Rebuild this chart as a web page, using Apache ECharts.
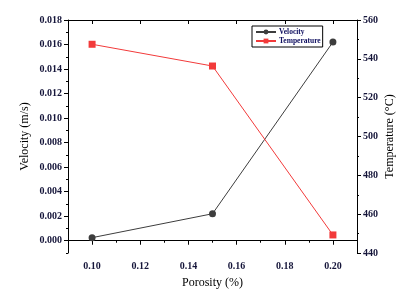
<!DOCTYPE html>
<html><head><meta charset="utf-8">
<script src="https://cdn.jsdelivr.net/npm/echarts@6/dist/echarts.min.js"></script>
<style>html,body{margin:0;padding:0;background:#fff}#c{width:418px;height:296px}</style>
</head><body><div id="c"></div>
<script>
const porosity = [0.10, 0.15, 0.20];
const velocity = [0.00025, 0.0022, 0.0162];
const temperature = [547.5, 536.3, 449.3];
const xTickLabels = [0.10, 0.12, 0.14, 0.16, 0.18, 0.20];
const xMinorTicks = [0.09, 0.11, 0.13, 0.15, 0.17, 0.19, 0.21];
const vTickLabels = [0, 0.002, 0.004, 0.006, 0.008, 0.010, 0.012, 0.014, 0.016, 0.018];
const vMinorTicks = [-0.001, 0.001, 0.003, 0.005, 0.007, 0.009, 0.011, 0.013, 0.015, 0.017];

const font = 'Liberation Serif';
const lblStyle = {fontFamily: font, fontSize: 10, color: '#15153a', fontWeight: 'bold'};
const axLine = {show: true, lineStyle: {color: '#000', width: 1}};
const chart = echarts.init(document.getElementById('c'));
chart.setOption({
  animation: false,
  grid: {left: 68, right: 61, top: 20, bottom: 43},
  legend: {
    left: 252, top: 26, orient: 'vertical', itemGap: 1, itemWidth: 20, itemHeight: 6,
    borderColor: '#000', borderWidth: 1, padding: [2, 2, 2, 3],
    textStyle: {fontFamily: font, fontSize: 7.5, color: '#101060', fontWeight: 'bold', padding: [0, 0, 0, -2]},
    data: ['Velocity', 'Temperature']
  },
  xAxis: [
    {type: 'value', min: 0.09, max: 0.21, position: 'bottom',
     name: 'Porosity (%)', nameLocation: 'middle', nameGap: 24, nameMoveOverlap: false,
     nameTextStyle: {fontFamily: font, fontSize: 12, color: '#000'},
     axisLine: axLine, splitLine: {show: false},
     axisTick: {show: true, length: 4, customValues: xTickLabels, lineStyle: {color: '#000'}},
     axisLabel: Object.assign({customValues: xTickLabels, margin: 8, formatter: v => v.toFixed(2)}, lblStyle)},
    {type: 'value', min: 0.09, max: 0.21, position: 'bottom',
     axisLine: {show: false}, splitLine: {show: false}, axisLabel: {show: false},
     axisTick: {show: true, length: 2, customValues: xMinorTicks, lineStyle: {color: '#000'}}},
    {type: 'value', min: 0.09, max: 0.21, position: 'top',
     axisLine: axLine, splitLine: {show: false}, axisLabel: {show: false},
     axisTick: {show: true, inside: true, length: 4, customValues: xTickLabels, lineStyle: {color: '#000'}}}
  ],
  yAxis: [
    {type: 'value', min: -0.001, max: 0.018, position: 'left',
     name: 'Velocity (m/s)', nameLocation: 'middle', nameGap: 37, nameRotate: 90, nameMoveOverlap: false,
     nameTextStyle: {fontFamily: font, fontSize: 12, color: '#000'},
     axisLine: axLine, splitLine: {show: false},
     axisTick: {show: true, length: 4, customValues: vTickLabels, lineStyle: {color: '#000'}},
     axisLabel: Object.assign({customValues: vTickLabels, margin: 6, formatter: v => v.toFixed(3)}, lblStyle)},
    {type: 'value', min: 440, max: 560, interval: 20, position: 'right',
     name: 'Temperature (°C)', nameLocation: 'middle', nameGap: 27, nameRotate: 90, nameMoveOverlap: false,
     nameTextStyle: {fontFamily: font, fontSize: 12, color: '#000'},
     axisLine: axLine, splitLine: {show: false},
     axisTick: {show: true, length: 4, lineStyle: {color: '#000'}},
     minorTick: {show: true, splitNumber: 2, length: 2, lineStyle: {color: '#000'}},
     axisLabel: Object.assign({margin: 6}, lblStyle)},
    {type: 'value', min: -0.001, max: 0.018, position: 'left',
     axisLine: {show: false}, splitLine: {show: false}, axisLabel: {show: false},
     axisTick: {show: true, length: 2, customValues: vMinorTicks, lineStyle: {color: '#000'}}}
  ],
  series: [
    {name: 'Velocity', type: 'line', xAxisIndex: 0, yAxisIndex: 0,
     data: porosity.map((x, i) => [x, velocity[i]]),
     symbol: 'circle', symbolSize: 7,
     itemStyle: {color: '#3d3d3d'}, lineStyle: {color: '#3d3d3d', width: 1}},
    {name: 'Temperature', type: 'line', xAxisIndex: 0, yAxisIndex: 1,
     data: porosity.map((x, i) => [x, temperature[i]]),
     symbol: 'rect', symbolSize: 7,
     itemStyle: {color: '#f23a3a'}, lineStyle: {color: '#f23a3a', width: 1}}
  ]
});
</script></body></html>
